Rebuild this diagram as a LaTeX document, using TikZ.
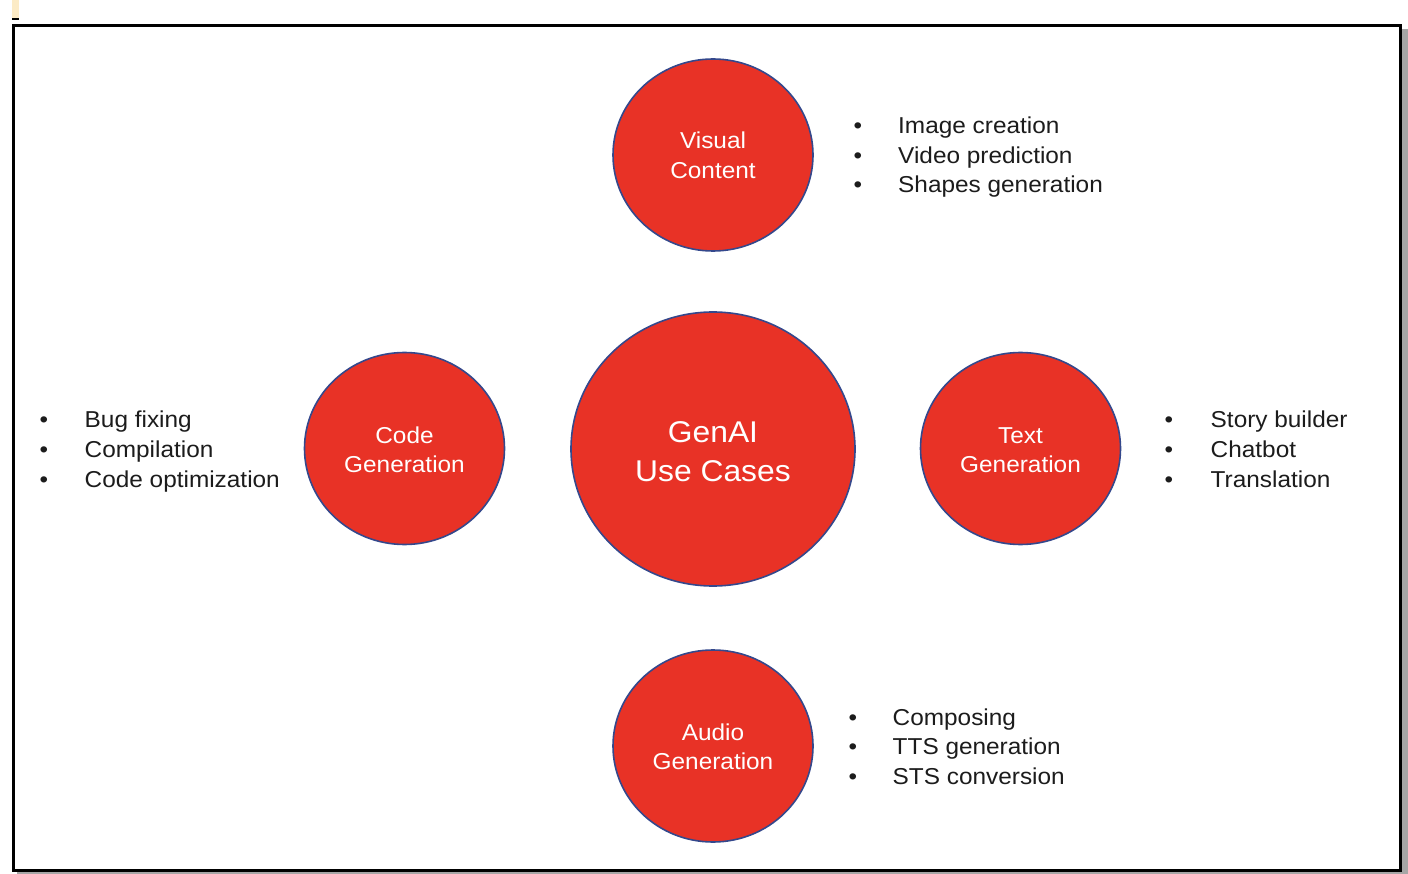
\documentclass[tikz,border=0pt]{standalone}
\usepackage{fontspec}
\setmainfont[FakeStretch=1.06]{Liberation Sans}
\usetikzlibrary{shapes.geometric}
\definecolor{circred}{RGB}{232,50,38}
\definecolor{circedge}{RGB}{52,72,140}
\definecolor{txtdark}{RGB}{28,28,28}
\definecolor{markyellow}{RGB}{252,235,198}
\tikzset{
  bubble/.style={ellipse, fill=circred, draw=circedge, line width=1.6pt, inner sep=0pt, minimum width=200pt, minimum height=192pt},
  intext/.style={text=white, inner sep=0pt, anchor=base, font=\fontsize{23}{29.5}\selectfont},
  bigtext/.style={text=white, inner sep=0pt, anchor=base, font=\fontsize{30}{39}\selectfont},
  item/.style={text=txtdark, inner sep=0pt, anchor=base west, font=\fontsize{23}{29.5}\selectfont},
  dot/.style={text=txtdark, inner sep=0pt, anchor=base, font=\fontsize{23}{29.5}\selectfont}
}
\begin{document}
\begin{tikzpicture}[x=1pt,y=-1pt]
\useasboundingbox (0,0) rectangle (1408,874);
% small mark at top-left
\fill[markyellow] (12,0) rectangle (19,18);
\fill[black] (12,18) rectangle (19,20);
% frame with shadow
\fill[gray!70] (17,29) rectangle (1408,874);
\filldraw[fill=white, draw=black, line width=2.6pt] (13.3,25.3) rectangle (1400.3,870.3);

% circles
\node[bubble] (visual) at (713,155) {};
\node[bubble, minimum width=284pt, minimum height=274pt] (center) at (713,449) {};
\node[bubble] (code) at (404.5,448.5) {};
\node[bubble] (text) at (1020.5,448.5) {};
\node[bubble] (audio) at (713,746) {};

% circle labels
\node[intext] (v1) at (713,149) {Visual};
\node[intext] (v2) at (713,178.5) {Content};
\node[bigtext] (g1) at (713,442) {GenAI};
\node[bigtext] (g2) at (713,481) {Use Cases};
\node[intext] (c1) at (404.5,443) {Code};
\node[intext] (c2) at (404.5,472.5) {Generation};
\node[intext] (t1) at (1020.5,443) {Text};
\node[intext] (t2) at (1020.5,472.5) {Generation};
\node[intext] (a1) at (713,740) {Audio};
\node[intext] (a2) at (713,769.5) {Generation};

% visual list
\node[dot] (vb1) at (858,134) {•};
\node[dot] (vb2) at (858,163.5) {•};
\node[dot] (vb3) at (858,193) {•};
\node[item] (vi1) at (898,134) {Image creation};
\node[item] (vi2) at (898,163.5) {Video prediction};
\node[item] (vi3) at (898,193) {Shapes generation};

% code list
\node[dot] (cb1) at (44,428) {•};
\node[dot] (cb2) at (44,457.5) {•};
\node[dot] (cb3) at (44,487) {•};
\node[item] (ci1) at (84.5,428) {Bug fixing};
\node[item] (ci2) at (84.5,457.5) {Compilation};
\node[item] (ci3) at (84.5,487) {Code optimization};

% text list
\node[dot] (tb1) at (1169,428) {•};
\node[dot] (tb2) at (1169,457.5) {•};
\node[dot] (tb3) at (1169,487) {•};
\node[item] (ti1) at (1210.5,428) {Story builder};
\node[item] (ti2) at (1210.5,457.5) {Chatbot};
\node[item] (ti3) at (1210.5,487) {Translation};

% audio list
\node[dot] (ab1) at (853,725) {•};
\node[dot] (ab2) at (853,754.5) {•};
\node[dot] (ab3) at (853,784) {•};
\node[item] (ai1) at (892.5,725) {Composing};
\node[item] (ai2) at (892.5,754.5) {TTS generation};
\node[item] (ai3) at (892.5,784) {STS conversion};
\end{tikzpicture}
\end{document}
